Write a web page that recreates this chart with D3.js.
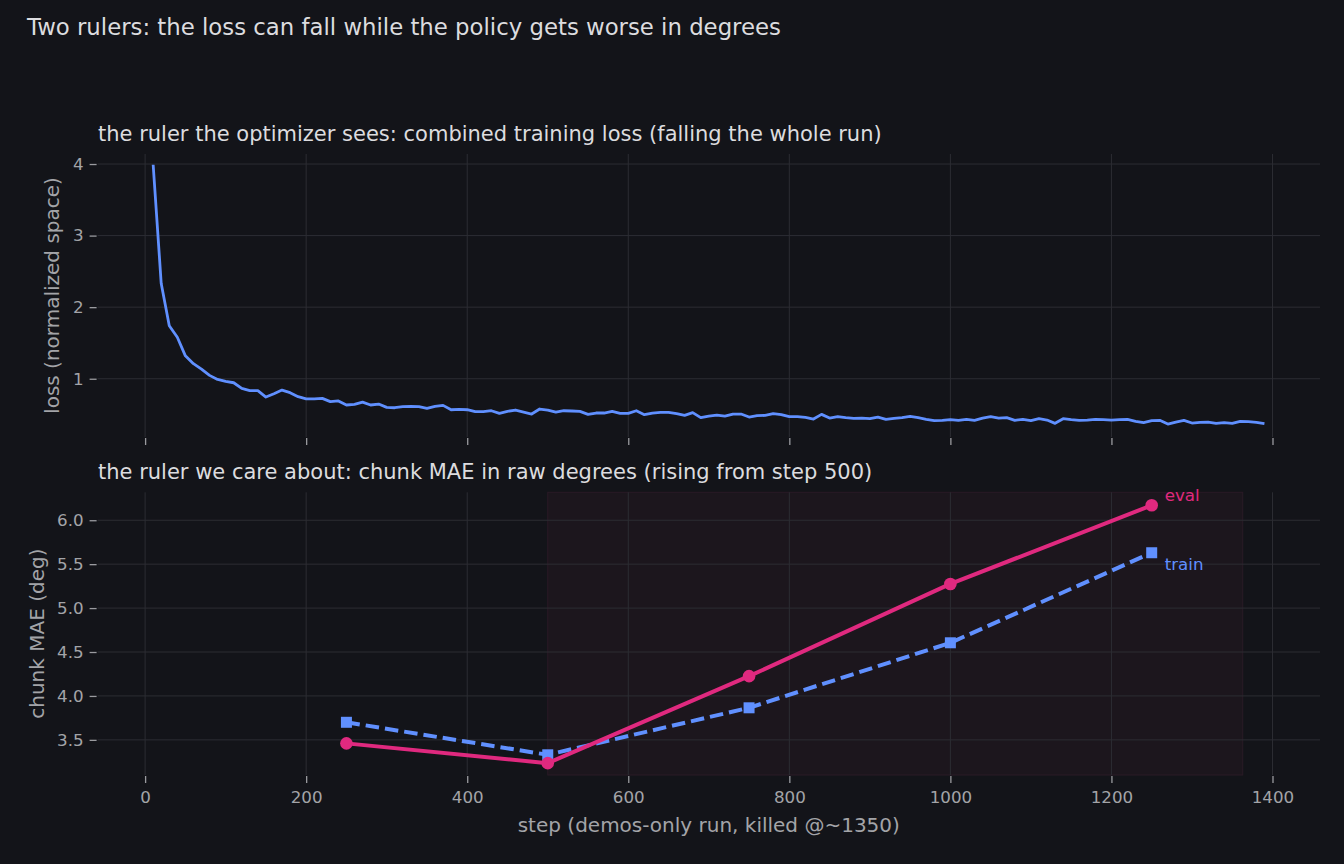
<!DOCTYPE html>
<html><head><meta charset="utf-8">
<script src="https://cdn.jsdelivr.net/npm/d3@7"></script>
<style>
html,body{margin:0;padding:0;background:#131419;}
svg{display:block;font-family:"DejaVu Sans",sans-serif;}
</style></head>
<body>
<svg id="chart" width="1344" height="864"></svg>
<script>
// ---- data ----
const lossSteps = d3.range(10, 1391, 10);
const lossValues = [
3.99,2.33,1.74,1.58,1.32,1.21,1.135,1.047,0.99,0.963,
0.944,0.865,0.833,0.833,0.744,0.79,0.842,0.805,0.749,0.72,
0.72,0.726,0.68,0.69,0.633,0.642,0.674,0.633,0.646,0.60,
0.595,0.609,0.614,0.609,0.586,0.614,0.628,0.567,0.572,0.567,
0.54,0.54,0.553,0.516,0.544,0.563,0.535,0.507,0.577,0.563,
0.535,0.553,0.549,0.544,0.502,0.521,0.521,0.544,0.516,0.516,
0.553,0.498,0.521,0.53,0.53,0.512,0.488,0.526,0.456,0.479,
0.493,0.479,0.507,0.507,0.465,0.484,0.488,0.512,0.498,0.47,
0.47,0.46,0.437,0.502,0.451,0.47,0.456,0.447,0.451,0.442,
0.465,0.433,0.447,0.456,0.474,0.456,0.433,0.414,0.419,0.43,
0.419,0.433,0.419,0.451,0.47,0.451,0.456,0.419,0.433,0.414,
0.442,0.423,0.377,0.442,0.428,0.419,0.423,0.433,0.428,0.423,
0.428,0.433,0.405,0.386,0.414,0.419,0.367,0.395,0.419,0.381,
0.391,0.395,0.377,0.386,0.377,0.405,0.40,0.391,0.372
];
const evalSteps = [250, 500, 750, 1000, 1250];
const evalMAE = [3.46, 3.235, 4.225, 5.275, 6.17];
const trainMAE = [3.70, 3.33, 3.865, 4.605, 5.63];
const xTicks = [0, 200, 400, 600, 800, 1000, 1200, 1400];
const lossTicks = [1, 2, 3, 4];
const maeTicks = [3.5, 4.0, 4.5, 5.0, 5.5, 6.0];
const spanRange = [500, 1363];

const titleText = "Two rulers: the loss can fall while the policy gets worse in degrees";
const topTitle = "the ruler the optimizer sees: combined training loss (falling the whole run)";
const botTitle = "the ruler we care about: chunk MAE in raw degrees (rising from step 500)";
const topYLabel = "loss (normalized space)";
const botYLabel = "chunk MAE (deg)";
const xLabel = "step (demos-only run, killed @~1350)";

// ---- style ----
const C = {bg:"#131419", grid:"#2c2d33", tick:"#9a9b9f", text:"#dcdcdf", sub:"#a3a4a8",
  pink:"#e0297f", blue:"#6090ff", span:"#1c161d", spanEdge:"#2a1a26"};

const svg = d3.select("#chart");
svg.append("rect").attr("width",1344).attr("height",864).attr("fill",C.bg);

const L = 97.6, R = 1320;
const x = d3.scaleLinear().domain([-59, 1459]).range([L, R]);
const yTop = d3.scaleLinear().domain([0.186, 4.14]).range([437, 154]);
const yBot = d3.scaleLinear().domain([3.10, 6.318]).range([775, 492.3]);

svg.append("text").attr("x",27).attr("y",35).attr("fill",C.text)
  .attr("font-size",22.8).text(titleText);

function drawGrid(y, yticks, fmt, ylabel, ylabelX, showX){
  const [b, t] = y.range();
  const g = svg.append("g");
  g.selectAll(".vg").data(xTicks).join("line")
    .attr("x1",d=>x(d)).attr("x2",d=>x(d)).attr("y1",t).attr("y2",b)
    .attr("stroke",C.grid).attr("stroke-width",1);
  g.selectAll(".hg").data(yticks).join("line")
    .attr("x1",L).attr("x2",R).attr("y1",d=>y(d)).attr("y2",d=>y(d))
    .attr("stroke",C.grid).attr("stroke-width",1);
  const ya = d3.axisLeft(y).tickValues(yticks).tickFormat(fmt).tickSize(7).tickPadding(6);
  const yg = svg.append("g").attr("transform",`translate(${L-1},0)`).call(ya);
  yg.select(".domain").remove();
  yg.selectAll("line").attr("stroke",C.tick).attr("stroke-width",1.3);
  yg.selectAll("text").attr("fill",C.sub).attr("font-size",16.7).attr("font-family","DejaVu Sans");
  const xa = d3.axisBottom(x).tickValues(xTicks).tickSize(7).tickPadding(8)
    .tickFormat(showX ? d3.format("d") : () => "");
  const xg = svg.append("g").attr("transform",`translate(0,${b+1})`).call(xa);
  xg.select(".domain").remove();
  xg.selectAll("line").attr("stroke",C.tick).attr("stroke-width",1.3);
  xg.selectAll("text").attr("fill",C.sub).attr("font-size",16.7).attr("font-family","DejaVu Sans");
  svg.append("text").attr("transform",`translate(${ylabelX},${(t+b)/2}) rotate(-90)`)
    .attr("text-anchor","middle").attr("dominant-baseline","central")
    .attr("fill",C.sub).attr("font-size",20).text(ylabel);
}

// ---- top panel ----
drawGrid(yTop, lossTicks, d3.format("d"), topYLabel, 52, false);
svg.append("text").attr("x",98).attr("y",140.5).attr("fill",C.text).attr("font-size",21).text(topTitle);
const lossData = lossSteps.map((s,i)=>[s, lossValues[i]]);
svg.append("path").datum(lossData)
  .attr("d", d3.line().x(d=>x(d[0])).y(d=>yTop(d[1])))
  .attr("fill","none").attr("stroke",C.blue).attr("stroke-width",2.8)
  .attr("stroke-linejoin","round");

// ---- bottom panel ----
svg.append("rect").attr("x",x(spanRange[0])).attr("y",492.3)
  .attr("width",x(spanRange[1])-x(spanRange[0])).attr("height",775-492.3)
  .attr("fill",C.span).attr("stroke",C.spanEdge).attr("stroke-width",1);
drawGrid(yBot, maeTicks, d3.format(".1f"), botYLabel, 36.5, true);
svg.append("text").attr("x",98).attr("y",479).attr("fill",C.text).attr("font-size",21).text(botTitle);

const line = d3.line().x(d=>x(d[0])).y(d=>yBot(d[1]));
const trainData = evalSteps.map((s,i)=>[s, trainMAE[i]]);
const evalData = evalSteps.map((s,i)=>[s, evalMAE[i]]);
svg.append("path").datum(trainData).attr("d",line).attr("fill","none")
  .attr("stroke",C.blue).attr("stroke-width",4).attr("stroke-dasharray","13.5,6");
svg.selectAll(".sq").data(trainData).join("rect")
  .attr("x",d=>x(d[0])-5.5).attr("y",d=>yBot(d[1])-5.5).attr("width",11).attr("height",11)
  .attr("fill",C.blue);
svg.append("path").datum(evalData).attr("d",line).attr("fill","none")
  .attr("stroke",C.pink).attr("stroke-width",4).attr("stroke-linejoin","round");
svg.selectAll(".ci").data(evalData).join("circle")
  .attr("cx",d=>x(d[0])).attr("cy",d=>yBot(d[1])).attr("r",6.3).attr("fill",C.pink);

const lastI = evalSteps.length-1;
svg.append("text").attr("x",x(evalSteps[lastI])+13).attr("y",yBot(evalMAE[lastI])-4)
  .attr("fill",C.pink).attr("font-size",16.7).text("eval");
svg.append("text").attr("x",x(evalSteps[lastI])+13).attr("y",yBot(trainMAE[lastI])+17)
  .attr("fill",C.blue).attr("font-size",16.7).text("train");

svg.append("text").attr("x",(L+R)/2).attr("y",832).attr("text-anchor","middle")
  .attr("fill",C.sub).attr("font-size",20).text(xLabel);
</script>
</body></html>
